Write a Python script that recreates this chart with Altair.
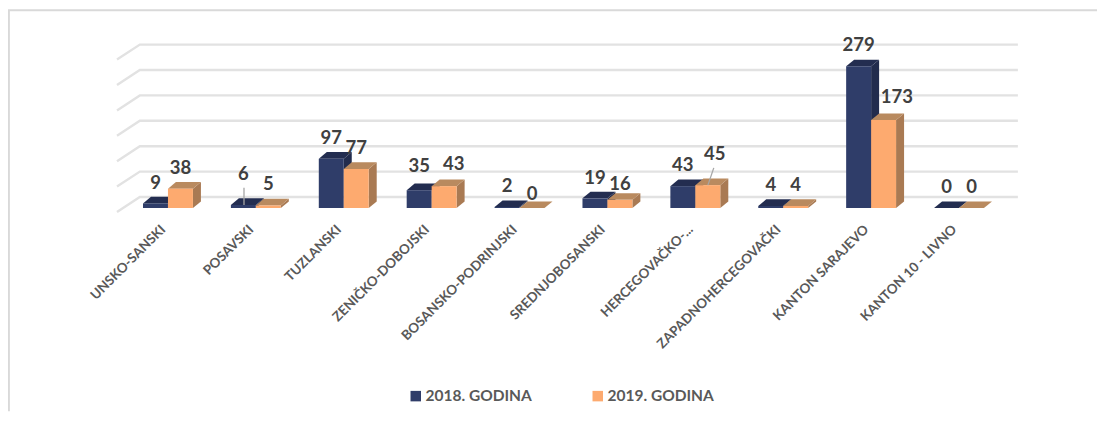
import altair as alt
import pandas as pd

categories = ["UNSKO-SANSKI", "POSAVSKI", "TUZLANSKI", "ZENIČKO-DOBOJSKI", "BOSANSKO-PODRINJSKI",
              "SREDNJOBOSANSKI", "HERCEGOVAČKO-...", "ZAPADNOHERCEGOVAČKI", "KANTON SARAJEVO", "KANTON 10 - LIVNO"]
values_2018 = [9, 6, 97, 35, 2, 19, 43, 4, 279, 0]
values_2019 = [38, 5, 77, 43, 0, 16, 45, 4, 173, 0]
series_names = ["2018. GODINA", "2019. GODINA"]
grid_values = [0, 50, 100, 150, 200, 250, 300]

FRONT = ["#2f3d69", "#fdaa6f"]
SIDE = ["#222c4d", "#a97a53"]
TOP = ["#232d50", "#b98a5f"]

# depth of the pseudo 3D effect, in data units
HALF = 0.284
DX = 0.091
DY = 13.0
FONT = "Lato"
GRID = "#e2e2e2"

W, H = 1089, 208
x_dom = [-1.82, 10.57]
y_dom = [-15.75, 393.7]
names_js = "[" + ",".join(f"'{c}'" for c in categories) + "]"
X = alt.X("x:Q", scale=alt.Scale(domain=x_dom),
          axis=alt.Axis(values=list(range(len(categories))), labelExpr=names_js + "[datum.value]",
                        labelAngle=-45, labelAlign="right", labelBaseline="middle", labelPadding=11,
                        labelOffset=-5,
                        domain=False, ticks=False, grid=False, title=None, labelOverlap=False,
                        labelFont=FONT, labelFontSize=13.4, labelFontWeight="bold", labelColor="#595959"))
Y = alt.Y("y:Q", scale=alt.Scale(domain=y_dom), axis=None)

# label nudges (category index, series) -> (x in category units, y in value units)
nudge = {(1, 0): (0, 20), (1, 1): (0, 2), (3, 0): (0, 6), (3, 1): (0.11, 2), (4, 1): (0, -14),
         (5, 1): (0, -10), (6, 1): (0.08, 20), (8, 1): (0.15, 4)}

rows_front, rows_side, rows_top, rows_lab = [], [], [], []
for s, vals in enumerate([values_2018, values_2019]):
    for i, v in enumerate(vals):
        x0 = i - HALF + s * HALF
        x1 = x0 + HALF
        key = f"{s}-{i}"
        rows_front.append(dict(x=x0, x2=x1, y=0, y2=v, series=series_names[s], s=s, i=i))
        rows_side += [dict(x=x1, y=v, y2=0, k=key, s=s, i=i),
                      dict(x=x1 + DX, y=v + DY, y2=DY, k=key, s=s, i=i)]
        rows_top += [dict(x=x0, y=v, y2=v, k=key, s=s, i=i),
                     dict(x=x0 + DX, y=v + DY, y2=v, k=key, s=s, i=i),
                     dict(x=x1, y=v + DY, y2=v, k=key, s=s, i=i),
                     dict(x=x1 + DX, y=v + DY, y2=v + DY, k=key, s=s, i=i)]
        nx, ny = nudge.get((i, s), (0, 0))
        rows_lab.append(dict(x=(x0 + x1) / 2 + nx, y=v + 41 + ny, t=str(v), s=s, i=i))

grid_rows = []
for g in grid_values:
    grid_rows += [dict(x=-0.58, y=g - 7.9, g=g), dict(x=-0.32, y=g + 21.7, g=g), dict(x=9.67, y=g + 21.7, g=g)]

df_front, df_side, df_top, df_lab = map(pd.DataFrame, (rows_front, rows_side, rows_top, rows_lab))

# frame of the chart: left and top edges
frame_df = pd.DataFrame([dict(x=-1.81, y=-400), dict(x=-1.81, y=389.5), dict(x=10.7, y=389.5)])
frame = alt.Chart(frame_df).mark_line(color="#d9d9d9", strokeWidth=2, clip=False).encode(X, Y)

grid = alt.Chart(pd.DataFrame(grid_rows)).mark_line(color=GRID, strokeWidth=2.4).encode(X, Y, detail="g:N")

layers = [frame, grid]
for s in (0, 1):
    layers.append(alt.Chart(df_side[df_side.s == s]).mark_area(color=SIDE[s], interpolate="linear")
                  .encode(X, Y, y2="y2:Q", detail="k:N"))
    layers.append(alt.Chart(df_top[df_top.s == s]).mark_area(color=TOP[s], interpolate="linear")
                  .encode(X, Y, y2="y2:Q", detail="k:N"))
    layers.append(alt.Chart(df_front[df_front.s == s]).mark_rect().encode(
        X, x2="x2:Q", y=Y, y2="y2:Q",
        color=alt.Color("series:N", scale=alt.Scale(domain=series_names, range=FRONT),
                        legend=alt.Legend(title=None, orient="none", legendX=400, legendY=380,
                                          direction="horizontal", symbolType="square", symbolSize=110,
                                          symbolStrokeWidth=0, columnPadding=58,
                                          labelFont=FONT, labelFontSize=15.5, labelFontWeight="bold",
                                          labelColor="#595959", labelOffset=2)),
    ))

# leader lines
leaders = pd.DataFrame([dict(x=0.865, y=6, l="a"), dict(x=0.865, y=40, l="a"),
                        dict(x=6.143, y=45, l="b"), dict(x=6.21, y=79, l="b")])
layers.append(alt.Chart(leaders).mark_line(color="#a6a6a6", strokeWidth=1.3).encode(X, Y, detail="l:N"))

layers.append(alt.Chart(df_lab).mark_text(font=FONT, fontSize=18.5, fontWeight="bold", color="#404040",
                                          baseline="middle", align="center")
              .encode(X, Y, text="t:N"))

chart = alt.layer(*layers).properties(
    width=W, height=H,
    padding={"left": 0, "top": 0, "right": 0, "bottom": 197},
    autosize=alt.AutoSizeParams(type="none"),
).configure_view(stroke=None)

chart.save("out.html", embed_options={"renderer": "svg", "actions": False})
